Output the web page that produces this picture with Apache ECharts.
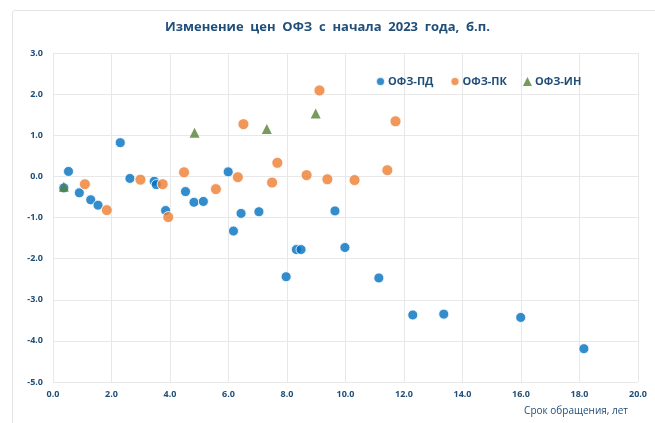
<!DOCTYPE html>
<html>
<head>
<meta charset="utf-8">
<script src="https://cdn.jsdelivr.net/npm/echarts@6/dist/echarts.min.js"></script>
<style>
  html, body { margin: 0; padding: 0; background: #fff; }
  #frame {
    position: absolute; left: 12px; top: 10px; width: 660px; height: 420px;
    border: 1px solid #e4e4e4; border-radius: 3px;
  }
  #chart { position: absolute; left: 0; top: 0; width: 655px; height: 423px; }
</style>
</head>
<body>
<div id="frame"></div>
<div id="chart"></div>
<script>
// Срок обращения (лет) и изменение цены (б.п.) по каждому выпуску
const pdX = [0.37, 0.53, 0.90, 1.29, 1.54, 2.30, 2.63, 3.46, 3.53, 3.85, 4.53, 4.82, 5.14, 5.99, 6.17, 6.43, 7.04, 7.97, 8.32, 8.48, 9.64, 9.98, 11.14, 12.30, 13.36, 15.99, 18.15];
const pdY = [-0.28, 0.12, -0.40, -0.57, -0.70, 0.82, -0.05, -0.12, -0.20, -0.83, -0.37, -0.63, -0.61, 0.11, -1.33, -0.90, -0.86, -2.44, -1.78, -1.78, -0.84, -1.73, -2.47, -3.37, -3.35, -3.43, -4.19];

const pkX = [1.09, 1.84, 2.99, 3.75, 3.94, 4.48, 5.57, 6.32, 6.51, 7.49, 7.67, 8.67, 9.11, 9.38, 10.31, 11.43, 11.71];
const pkY = [-0.19, -0.82, -0.08, -0.19, -0.99, 0.10, -0.31, -0.02, 1.27, -0.15, 0.33, 0.03, 2.09, -0.07, -0.09, 0.15, 1.34];

const inX = [0.37, 4.84, 7.31, 8.98];
const inY = [-0.25, 1.06, 1.15, 1.53];

const seriesNames = ['ОФЗ-ПД', 'ОФЗ-ПК', 'ОФЗ-ИН'];

const textColor = '#1f4e79';
const font = '"Open Sans", "DejaVu Sans", sans-serif';

const zip = (xs, ys) => xs.map((x, i) => [x, ys[i]]);

const chart = echarts.init(document.getElementById('chart'));

chart.setOption({
  animation: false,
  title: {
    text: 'Изменение  цен  ОФЗ  с  начала  2023  года,  б.п.',
    left: 'center',
    top: 16,
    textStyle: { color: textColor, fontFamily: font, fontSize: 13, fontWeight: 'bold' }
  },
  legend: {
    data: seriesNames,
    top: 71,
    left: 370,
    itemGap: 16,
    itemWidth: 9,
    itemHeight: 9,
    textStyle: { color: textColor, fontFamily: font, fontSize: 11, fontWeight: 'bold', padding: [0, 0, 0, -2] }
  },
  grid: { left: 53, right: 17, top: 53, bottom: 41 },
  xAxis: {
    type: 'value',
    min: 0, max: 20, interval: 2,
    name: 'Срок обращения, лет',
    nameLocation: 'end',
    nameGap: 0,
    nameTextStyle: {
      color: textColor, fontFamily: font, fontSize: 10,
      align: 'right', verticalAlign: 'top', padding: [24, 10, 0, 0]
    },
    axisLine: { show: false, onZero: false },
    axisTick: { show: false },
    axisLabel: {
      color: textColor, fontFamily: font, fontSize: 9, fontWeight: 'bold', margin: 8,
      formatter: v => v.toFixed(1)
    },
    splitLine: { lineStyle: { color: '#e8e8e8' } }
  },
  yAxis: {
    type: 'value',
    min: -5, max: 3, interval: 1,
    axisLine: { show: false },
    axisTick: { show: false },
    axisLabel: {
      color: textColor, fontFamily: font, fontSize: 9, fontWeight: 'bold', margin: 10,
      formatter: v => v.toFixed(1)
    },
    splitLine: { lineStyle: { color: '#e8e8e8' } }
  },
  series: [
    {
      name: seriesNames[0], type: 'scatter', symbol: 'circle', symbolSize: 10,
      itemStyle: { color: '#0070c0', borderColor: '#fff', borderWidth: 1 },
      data: zip(pdX, pdY)
    },
    {
      name: seriesNames[1], type: 'scatter', symbol: 'circle', symbolSize: 11,
      itemStyle: { color: '#ed7d31', borderColor: '#fff', borderWidth: 1 },
      data: zip(pkX, pkY)
    },
    {
      name: seriesNames[2], type: 'scatter', symbol: 'triangle', symbolSize: 10,
      itemStyle: { color: '#548235' },
      data: zip(inX, inY)
    }
  ]
});
</script>
</body>
</html>
